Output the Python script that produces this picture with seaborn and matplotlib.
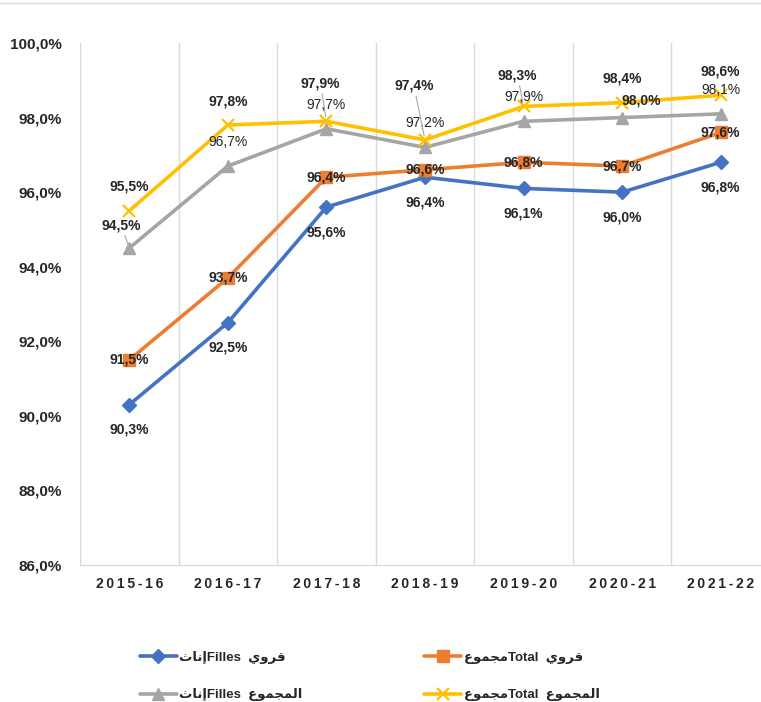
import numpy as np
import pandas as pd
import matplotlib
matplotlib.use("Agg")
import matplotlib.pyplot as plt
from matplotlib.lines import Line2D
import seaborn as sns

years = ['2015-16', '2016-17', '2017-18', '2018-19', '2019-20', '2020-21', '2021-22']
filles_rural = [90.3, 92.5, 95.6, 96.4, 96.1, 96.0, 96.8]
total_rural = [91.5, 93.7, 96.4, 96.6, 96.8, 96.7, 97.6]
filles_total = [94.5, 96.7, 97.7, 97.2, 97.9, 98.0, 98.1]
total_total = [95.5, 97.8, 97.9, 97.4, 98.3, 98.4, 98.6]

# arabic words written in visual order with presentation forms (no bidi shaping in matplotlib)
inath = '\uFE99\uFE8E\uFEE7\uFE87'            # إناث
qarawi = '\uFEF1\uFEED\uFEAE\uFED7'           # قروي
majmou = '\uFEC9\uFEEE\uFEE4\uFEA0\uFEE3'     # مجموع
almajmou = '\uFEC9\uFEEE\uFEE4\uFEA0\uFEE4\uFEDF\uFE8D'  # المجموع

labels = [inath + 'Filles  ' + qarawi,
          majmou + 'Total  ' + qarawi,
          inath + 'Filles  ' + almajmou,
          majmou + 'Total  ' + almajmou]

sns.set_style("white")
plt.rcParams['font.family'] = ['Liberation Sans', 'DejaVu Sans']

fig = plt.figure(figsize=(7.61, 7.02), dpi=100)
ax = fig.add_axes([80 / 761, 137 / 702, 690 / 761, 522 / 702])

series = [
    (filles_rural, '#4472C4', 'D', 7, 25),
    (total_rural, '#ED7D31', 's', 8, 0),
    (filles_total, '#A5A5A5', '^', 9, -24),
    (total_total, '#FFC000', 'x', 8, -24),
]

for (vals, col, mk, ms, dy), lab in zip(series, labels):
    sns.lineplot(x=years, y=vals, color=col, marker=mk, markersize=ms,
                 markeredgecolor=col, markeredgewidth=1.6 if mk == 'x' else 1,
                 linewidth=2.6, label=lab, ax=ax, sort=False)

# special label placements: (series, index) -> (dx, dy, leader, bold)
special = {
    (2, 0): (-8, -23, True, True),
    (2, 5): (19, -17, False, True),
    (3, 2): (-6, -38, True, True),
    (3, 3): (-11, -54, True, True),
    (3, 4): (-6, -31, True, True),
}

for si, (vals, col, mk, ms, dy) in enumerate(series):
    for i, v in enumerate(vals):
        txt = f"{v:.1f}%".replace('.', ',')
        dx, ddy, leader, bold = 0, dy, False, si != 2
        if (si, i) in special:
            dx, ddy, leader, bold = special[(si, i)]
        ap = dict(arrowstyle='-', color='#A6A6A6', lw=0.8, shrinkA=0, shrinkB=3) if leader else None
        ax.annotate(txt, xy=(i, v), xytext=(dx, -ddy), textcoords='offset pixels',
                    ha='center', va='center', fontsize=10,
                    fontweight='bold' if bold else 'normal', color='#262626',
                    arrowprops=ap)

ax.set_ylim(86, 100)
ax.set_xlim(-0.5, 6.5)
ax.set_yticks(np.arange(86, 100.1, 2))
ax.set_yticklabels([f"{t:.1f}%".replace('.', ',') for t in np.arange(86, 100.1, 2)],
                   fontsize=11, fontweight='bold', color='#262626')
ax.set_xticks(range(len(years)))
ax.set_xticklabels(['\u2009'.join(y) for y in years], fontsize=10, fontweight='bold', color='#262626')
ax.set_xticks(np.arange(-0.5, 7, 1), minor=True)
ax.grid(True, which='minor', axis='x', color='#D9D9D9', lw=1)
ax.grid(False, which='major')
ax.tick_params(axis='both', which='both', length=0)
ax.tick_params(axis='y', pad=13)
ax.tick_params(axis='x', pad=9)
ax.set_xlabel('')
ax.set_ylabel('')
for s in ['top', 'right']:
    ax.spines[s].set_visible(False)
for s in ['left', 'bottom']:
    ax.spines[s].set_color('#D9D9D9')

handles, labs = ax.get_legend_handles_labels()
ax.get_legend().remove()
order = [0, 2, 1, 3]
fig.legend([handles[k] for k in order], [labs[k] for k in order], ncol=2,
           loc='upper left', bbox_to_anchor=(128 / 761, 1 - 639 / 702), frameon=False,
           prop={'size': 9.5, 'weight': 'bold'}, handlelength=2.8, handletextpad=0.2,
           columnspacing=9.2, labelspacing=1.85)

fig.add_artist(Line2D([0, 1], [1 - 3 / 702] * 2, color='#D9D9D9', lw=1))

plt.savefig("out.png", dpi=100)
